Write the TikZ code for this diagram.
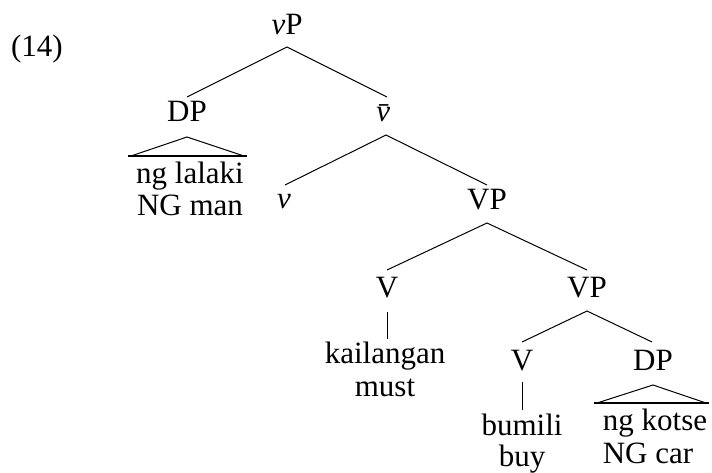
\documentclass[tikz,border=0pt]{standalone}
\usepackage{fontspec}
\setmainfont{Liberation Serif}
\begin{document}
\begin{tikzpicture}[x=1pt,y=-1pt,
  lbl/.style={inner sep=0pt,anchor=base,font=\fontsize{31}{33}\selectfont},
  edge/.style={line width=1pt},
  base/.style={line width=2pt}]
\useasboundingbox (0,0) rectangle (712,473);
% labels
\node[lbl] (ex) at (37,57) {(14)};
\node[lbl] (vP) at (287,35) {\textit{v}P};
\node[lbl] (DP1) at (187,122) {DP};
\node[lbl] (vbar) at (387,122) {\textit{\=v}};
\node[lbl] (lal) at (190,184) {ng lalaki};
\node[lbl] (man) at (190,216) {NG man};
\node[lbl] (v) at (284,209) {\textit{v}};
\node[lbl] (VP1) at (487,210) {VP};
\node[lbl] (V1) at (387,297) {V};
\node[lbl] (VP2) at (587,297) {VP};
\node[lbl] (kai) at (385,363) {kailangan};
\node[lbl] (must) at (385,396) {must};
\node[lbl] (V2) at (522,370) {V};
\node[lbl] (DP2) at (653,370) {DP};
\node[lbl] (bum) at (522,435) {bumili};
\node[lbl] (buy) at (522,466) {buy};
\node[lbl] (kot) at (655,430) {ng kotse};
\node[lbl] (car) at (648,463) {NG car};
% anchor points
\coordinate (vPb) at (287,47);
\coordinate (DP1t) at (187,97);
\coordinate (vbart) at (387,97);
\coordinate (vbarb) at (386,135);
\coordinate (vt) at (285,185);
\coordinate (VP1t) at (487,185);
\coordinate (VP1b) at (487,223);
\coordinate (V1t) at (387,270);
\coordinate (VP2t) at (587,270);
\coordinate (V1b) at (387,312);
\coordinate (kait) at (387,339);
\coordinate (VP2b) at (587,311);
\coordinate (V2t) at (522,342);
\coordinate (DP2t) at (652,342);
\coordinate (V2b) at (522,382);
\coordinate (bumt) at (522,410);
\coordinate (T1a) at (187,137);
\coordinate (T1l) at (128,156);
\coordinate (T1r) at (247,156);
\coordinate (T2a) at (653,385);
\coordinate (T2l) at (594,403);
\coordinate (T2r) at (709,403);
% branches
\draw[edge] (DP1t) -- (vPb) -- (vbart);
\draw[edge] (vt) -- (vbarb) -- (VP1t);
\draw[edge] (V1t) -- (VP1b) -- (VP2t);
\draw[edge] (V2t) -- (VP2b) -- (DP2t);
\draw[edge] (V1b) -- (kait);
\draw[edge] (V2b) -- (bumt);
% triangles
\draw[edge] ([xshift=3]T1l) -- (T1a) -- ([xshift=-3]T1r);
\draw[base] (T1l) -- (T1r);
\draw[edge] ([xshift=3]T2l) -- (T2a) -- ([xshift=-3]T2r);
\draw[base] (T2l) -- (T2r);
\end{tikzpicture}
\end{document}
